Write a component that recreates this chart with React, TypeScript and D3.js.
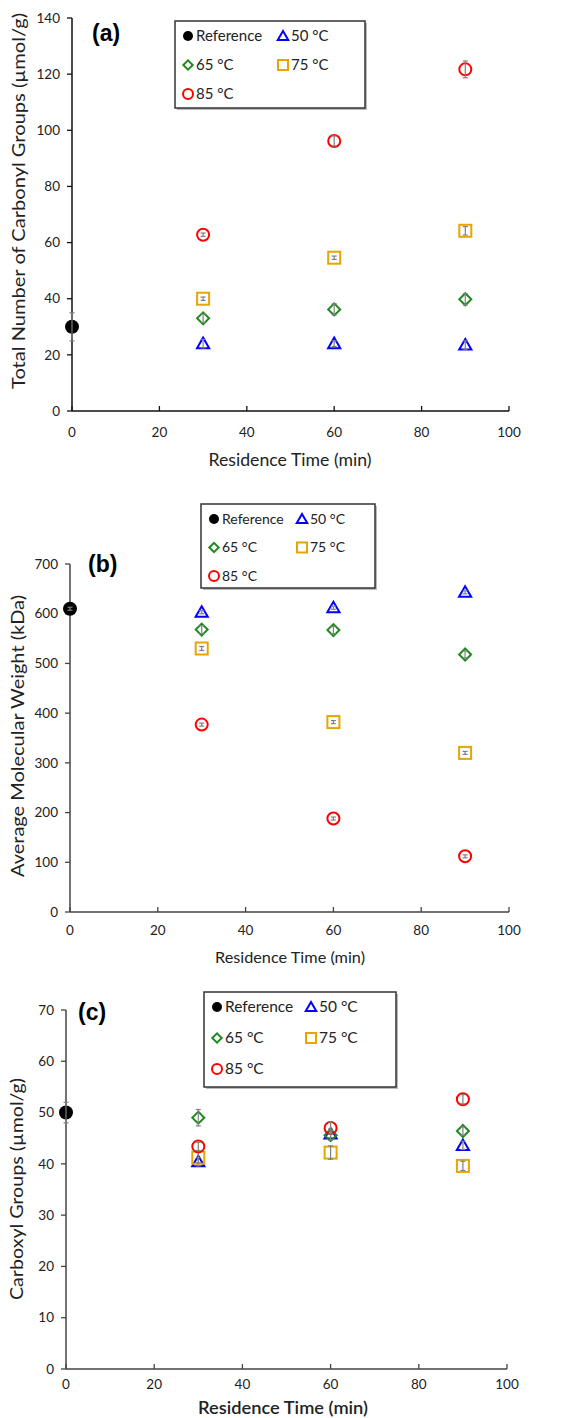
import React from "react";
import * as d3 from "d3";

// ---------- DATA ----------
const times = [30, 60, 90];
const xTicks = [0, 20, 40, 60, 80, 100];
const seriesNames = ["Reference", "50 °C", "65 °C", "75 °C", "85 °C"];

// (a) Total number of carbonyl groups (µmol/g)
const carbonylRef = 30;
const carbonylRefErr = 5;
const carbonyl50 = [24, 24, 23.5];
const carbonyl65 = [33, 36.2, 39.8];
const carbonyl75 = [40, 54.6, 64.2];
const carbonyl85 = [62.8, 96.2, 121.7];
const carbonyl50Err = [1.5, 1, 1.5];
const carbonyl65Err = [1.5, 2, 2];
const carbonyl75Err = [0.6, 0.6, 1.5];
const carbonyl85Err = [0.6, 1.8, 3];
const carbonylTicks = [0, 20, 40, 60, 80, 100, 120, 140];

// (b) Average molecular weight (kDa)
const mwRef = 610;
const mwRefErr = 3;
const mw50 = [603, 612, 643];
const mw65 = [568, 567, 518];
const mw75 = [530, 382, 320];
const mw85 = [377, 188, 112];
const mw50Err = [3, 3, 3];
const mw65Err = [8, 7, 7];
const mw75Err = [4, 3, 3];
const mw85Err = [3, 3, 3];
const mwTicks = [0, 100, 200, 300, 400, 500, 600, 700];

// (c) Carboxyl groups (µmol/g)
const carboxRef = 50;
const carboxRefErr = 2;
const carbox50 = [40.4, 45.8, 43.6];
const carbox65 = [49, 45.6, 46.4];
const carbox75 = [41.2, 42.2, 39.6];
const carbox85 = [43.4, 47, 52.6];
const carbox50Err = [0.8, 1, 0.8];
const carbox65Err = [1.6, 1, 0.8];
const carbox75Err = [1, 1.3, 0.9];
const carbox85Err = [0.8, 1.2, 0.9];
const carboxTicks = [0, 10, 20, 30, 40, 50, 60, 70];

// ---------- STYLE ----------
const FONT = "Lato, 'Open Sans', sans-serif";
const COLORS = ["#000000", "#0000ff", "#1f8a1f", "#e6a500", "#ff0000"];
const SHAPES = ["dot", "triangle", "diamond", "square", "circle"];
const ERR_COLOR = "#808080";

type PanelCfg = {
  label: string;
  yTitle: string;
  yMax: number;
  yTicks: number[];
  x0: number; x1: number; yTop: number; yBottom: number;
  ref: number; refErr: number;
  series: number[][]; errs: number[][];
  legend: { x: number; y: number; w: number; h: number; col2: number; row: number; fs: number };
  labelPos: [number, number];
  yTitleX: number; yTitleFs: number; yTitleLen: number; yTitleY: number;
  xTitleY: number; xTitleFs: number; xTitleX: number; xTitleLen: number; xTitleW: number;
  xTickOff: number;
  axisColor: string;
};

function Marker({ shape, color, x, y }: { shape: string; color: string; x: number; y: number }) {
  const sw = 2;
  if (shape === "dot") return <circle cx={x} cy={y} r={7} fill={color} />;
  if (shape === "circle") return <circle cx={x} cy={y} r={6} fill="none" stroke={color} strokeWidth={sw} />;
  if (shape === "square") return <rect x={x - 6} y={y - 6} width={12} height={12} fill="none" stroke={color} strokeWidth={sw} />;
  if (shape === "diamond") {
    const p = d3.symbol(d3.symbolSquare, 72)();
    return <path d={p || ""} transform={`translate(${x},${y}) rotate(45)`} fill="none" stroke={color} strokeWidth={sw} />;
  }
  const p = d3.symbol(d3.symbolTriangle, 64)();
  return <path d={p || ""} transform={`translate(${x},${y + 1})`} fill="none" stroke={color} strokeWidth={sw} />;
}

function LegendMarker({ shape, color, x, y }: { shape: string; color: string; x: number; y: number }) {
  const sw = 2;
  if (shape === "dot") return <circle cx={x} cy={y} r={5} fill={color} />;
  if (shape === "circle") return <circle cx={x} cy={y} r={5} fill="none" stroke={color} strokeWidth={sw} />;
  if (shape === "square") return <rect x={x - 5} y={y - 5} width={10} height={10} fill="none" stroke={color} strokeWidth={sw} />;
  if (shape === "diamond") {
    const p = d3.symbol(d3.symbolSquare, 44)();
    return <path d={p || ""} transform={`translate(${x},${y}) rotate(45)`} fill="none" stroke={color} strokeWidth={sw} />;
  }
  const p = d3.symbol(d3.symbolTriangle, 48)();
  return <path d={p || ""} transform={`translate(${x},${y + 1})`} fill="none" stroke={color} strokeWidth={sw} />;
}

function ErrBar({ x, y1, y2 }: { x: number; y1: number; y2: number }) {
  return (
    <g stroke={ERR_COLOR} strokeWidth={1.2}>
      <line x1={x} x2={x} y1={y1} y2={y2} />
      <line x1={x - 2.5} x2={x + 2.5} y1={y1} y2={y1} />
      <line x1={x - 2.5} x2={x + 2.5} y1={y2} y2={y2} />
    </g>
  );
}

function Panel({ c }: { c: PanelCfg }) {
  const x = d3.scaleLinear().domain([0, 100]).range([c.x0, c.x1]);
  const y = d3.scaleLinear().domain([0, c.yMax]).range([c.yBottom, c.yTop]);
  const L = c.legend;
  const legendItems = seriesNames.map((n, i) => {
    const col = i % 2;
    const row = Math.floor(i / 2);
    return { n, i, lx: L.x + 13 + col * c.legend.col2, ly: L.y + 15 + row * L.row };
  });
  return (
    <g fontFamily={FONT}>
      {/* axes */}
      <line x1={c.x0} x2={c.x0} y1={y(c.yMax)} y2={y(0)} stroke={c.axisColor} strokeWidth={1.5} />
      <line x1={c.x0} x2={c.x1} y1={y(0)} y2={y(0)} stroke={c.axisColor} strokeWidth={1.5} />
      {c.yTicks.map((t) => (
        <g key={"yt" + t}>
          <line x1={c.x0 - 5} x2={c.x0} y1={y(t)} y2={y(t)} stroke={c.axisColor} strokeWidth={1.3} />
          <text x={c.x0 - 12} y={y(t)} dy="0.35em" textAnchor="end" fontSize={13.5} fill="#222">{t}</text>
        </g>
      ))}
      {xTicks.map((t) => (
        <g key={"xt" + t}>
          <line x1={x(t)} x2={x(t)} y1={y(0)} y2={y(0) - 5} stroke={c.axisColor} strokeWidth={1.3} />
          <text x={x(t)} y={y(0) + c.xTickOff} dy="0.35em" textAnchor="middle" fontSize={13.5} fill="#222">{t}</text>
        </g>
      ))}
      <text x={c.xTitleX} y={c.xTitleY} dy="0.35em" textAnchor="middle" fontSize={c.xTitleFs} fontWeight={c.xTitleW} fill="#222"
        textLength={c.xTitleLen} lengthAdjust="spacingAndGlyphs">Residence Time (min)</text>
      <text transform={`translate(${c.yTitleX},${c.yTitleY}) rotate(-90)`} dy="0.35em" textAnchor="middle" fontSize={c.yTitleFs} fill="#222"
        textLength={c.yTitleLen} lengthAdjust="spacingAndGlyphs">{c.yTitle}</text>
      <text x={c.labelPos[0]} y={c.labelPos[1]} dy="0.35em" fontSize={23} fontWeight="bold" fontFamily="'Liberation Sans', Arial, sans-serif" fill="#000">{c.label}</text>

      {/* data */}
      <Marker shape="dot" color={COLORS[0]} x={x(0)} y={y(c.ref)} />
      <ErrBar x={x(0)} y1={y(c.ref - c.refErr)} y2={y(c.ref + c.refErr)} />
      {c.series.map((s, si) => (
        <g key={"s" + si}>
          {s.map((v, j) => (
            <g key={j}>
              <Marker shape={SHAPES[si + 1]} color={COLORS[si + 1]} x={x(times[j])} y={y(v)} />
              <ErrBar x={x(times[j])} y1={y(v - c.errs[si][j])} y2={y(v + c.errs[si][j])} />
            </g>
          ))}
        </g>
      ))}

      {/* legend */}
      <rect x={L.x + 2} y={L.y + 2} width={L.w} height={L.h} fill="#bbb" />
      <rect x={L.x} y={L.y} width={L.w} height={L.h} fill="#fff" stroke="#333" strokeWidth={1.5} />
      {legendItems.map((it) => (
        <g key={it.n}>
          <LegendMarker shape={SHAPES[it.i]} color={COLORS[it.i]} x={it.lx} y={it.ly} />
          <text x={it.lx + 8} y={it.ly} dy="0.35em" fontSize={L.fs} fill="#222">{it.n}</text>
        </g>
      ))}
    </g>
  );
}

const panels: PanelCfg[] = [
  {
    label: "(a)", yTitle: "Total Number of Carbonyl Groups (µmol/g)", yMax: 140, yTicks: carbonylTicks,
    x0: 72, x1: 509, yTop: 18, yBottom: 411,
    ref: carbonylRef, refErr: carbonylRefErr,
    series: [carbonyl50, carbonyl65, carbonyl75, carbonyl85],
    errs: [carbonyl50Err, carbonyl65Err, carbonyl75Err, carbonyl85Err],
    legend: { x: 175, y: 21, w: 190, h: 87, col2: 95, row: 29, fs: 15 },
    labelPos: [92, 33], yTitleX: 19, yTitleY: 201, yTitleFs: 18, yTitleLen: 376,
    xTitleY: 460, xTitleX: 290, xTitleFs: 17, xTitleLen: 163, xTitleW: 400, xTickOff: 21, axisColor: "#111",
  },
  {
    label: "(b)", yTitle: "Average Molecular Weight (kDa)", yMax: 700, yTicks: mwTicks,
    x0: 70, x1: 509, yTop: 564, yBottom: 912,
    ref: mwRef, refErr: mwRefErr,
    series: [mw50, mw65, mw75, mw85],
    errs: [mw50Err, mw65Err, mw75Err, mw85Err],
    legend: { x: 201, y: 504, w: 174, h: 84, col2: 88, row: 28.5, fs: 14 },
    labelPos: [88, 564], yTitleX: 18, yTitleY: 736, yTitleFs: 16.5, yTitleLen: 282,
    xTitleY: 958, xTitleX: 290, xTitleFs: 15.5, xTitleLen: 150, xTitleW: 400, xTickOff: 18, axisColor: "#444",
  },
  {
    label: "(c)", yTitle: "Carboxyl Groups (µmol/g)", yMax: 70, yTicks: carboxTicks,
    x0: 66, x1: 507, yTop: 1010, yBottom: 1369,
    ref: carboxRef, refErr: carboxRefErr,
    series: [carbox50, carbox65, carbox75, carbox85],
    errs: [carbox50Err, carbox65Err, carbox75Err, carbox85Err],
    legend: { x: 204, y: 992, w: 192, h: 95, col2: 94, row: 31, fs: 15.5 },
    labelPos: [78, 1012], yTitleX: 17, yTitleY: 1189, yTitleFs: 17.5, yTitleLen: 222,
    xTitleY: 1408, xTitleX: 283, xTitleFs: 18, xTitleLen: 170, xTitleW: 600, xTickOff: 15, axisColor: "#444",
  },
];

export default function App() {
  return (
    <div style={{ position: "absolute", left: 0, top: 0 }}>
      <svg width={574} height={1418} style={{ display: "block", background: "#fff" }}>
        {panels.map((p) => (
          <Panel key={p.label} c={p} />
        ))}
      </svg>
    </div>
  );
}
